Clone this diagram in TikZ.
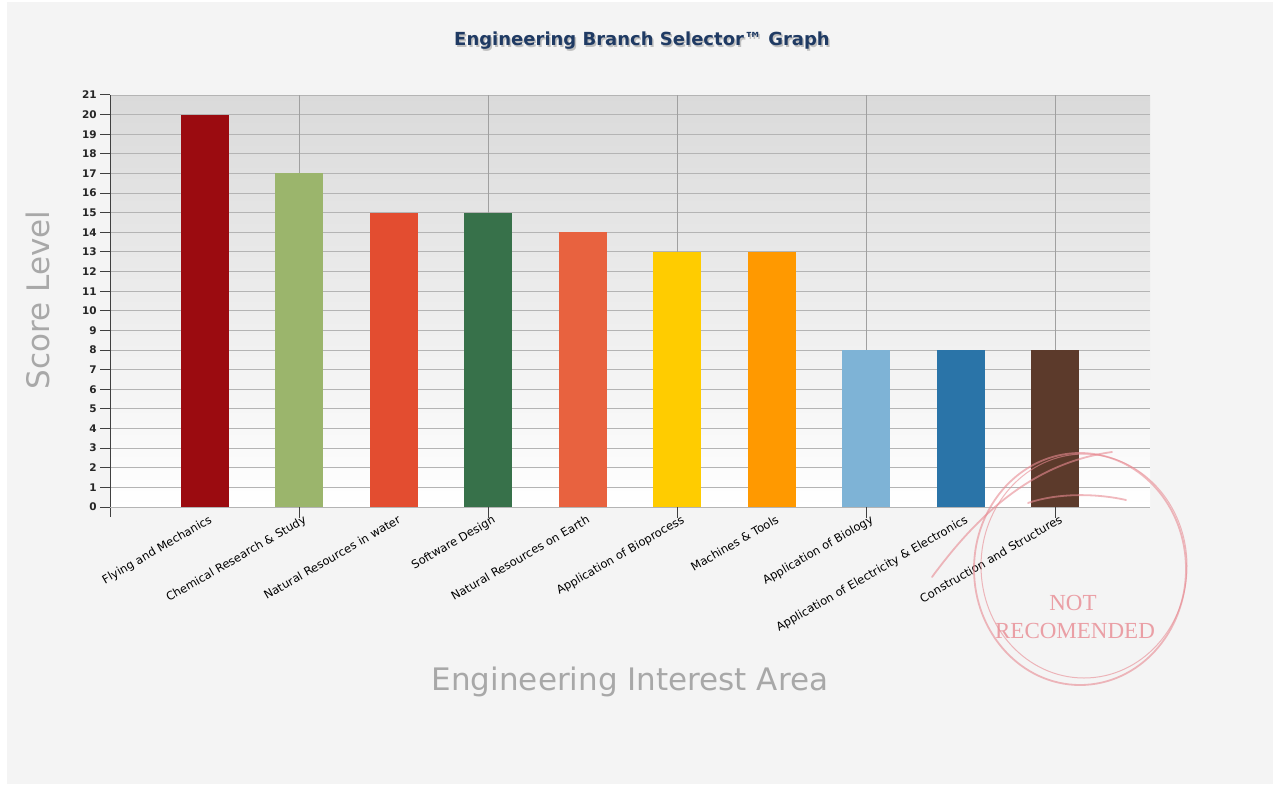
\documentclass[tikz,border=0pt]{standalone}
\usepackage{fontspec}
\setmainfont{DejaVu Sans}
\newfontfamily\stampfont{Liberation Serif}
\definecolor{pagebg}{HTML}{F4F4F4}
\definecolor{plottop}{HTML}{DADADA}
\definecolor{gridc}{HTML}{B4B4B4}
\definecolor{vgridc}{HTML}{A0A0A0}
\definecolor{titlec}{HTML}{1F3A63}
\definecolor{axtitle}{HTML}{A8A8A8}
\definecolor{stampc}{HTML}{E88A92}
\definecolor{bA}{HTML}{9B0B10}
\definecolor{bB}{HTML}{9BB56C}
\definecolor{bC}{HTML}{E34D30}
\definecolor{bD}{HTML}{37714A}
\definecolor{bE}{HTML}{E8623F}
\definecolor{bF}{HTML}{FFCC00}
\definecolor{bG}{HTML}{FF9900}
\definecolor{bH}{HTML}{7EB3D6}
\definecolor{bI}{HTML}{2A74A8}
\definecolor{bJ}{HTML}{5C3A2B}
\tikzset{
  gridline/.style={draw=gridc,line width=0.9pt},
  vgridline/.style={draw=vgridc,line width=0.8pt},
  axisline/.style={draw=black!75,line width=1pt},
  ylab/.style={anchor=east,font=\bfseries\fontsize{10.5}{10.5}\selectfont,text=black!85,inner sep=1pt},
  xlab/.style={anchor=north east,rotate=30,font=\fontsize{11.5}{11.5}\selectfont,text=black,inner sep=1pt},
  stampline/.style={draw=stampc,opacity=0.6,line width=1.8pt,line cap=round},
  stamptext/.style={text=stampc,opacity=0.8,font=\stampfont\fontsize{23}{23}\selectfont,inner sep=0pt}
}
\begin{document}
\begin{tikzpicture}[x=1pt,y=-1pt]
\useasboundingbox (0,0) rectangle (1277,785);
\fill[white] (0,0) rectangle (1277,785);
\fill[pagebg] (7,2) rectangle (1273,784);
% plot area
\shade[top color=plottop,bottom color=white] (110,95) rectangle (1150,507);
\foreach \v in {1,...,21}
  \draw[gridline] (110,{507-19.62*\v}) -- (1150,{507-19.62*\v});
\foreach \k in {2,4,6,8,10}
  \draw[vgridline] ({110+94.5*\k},95) -- ({110+94.5*\k},507);
% bars
\foreach \k/\v/\c in {1/20/bA,2/17/bB,3/15/bC,4/15/bD,5/14/bE,6/13/bF,7/13/bG,8/8/bH,9/8/bI,10/8/bJ}
  \fill[\c] ({110+94.5*\k-24},{507-19.62*\v}) rectangle ({110+94.5*\k+24},507);
% axes
\coordinate (ytop) at (110,95);
\coordinate (ybot) at (110,517);
\coordinate (xleft) at (110,507);
\coordinate (xright) at (1150,507);
\draw[axisline] (ytop) -- (ybot);
\draw[gridc,line width=1pt] (xleft) -- (xright);
\foreach \v in {0,...,21}{
  \draw[axisline] (100,{507-19.62*\v}) -- (110,{507-19.62*\v});
  \node[ylab] (yl\v) at (98,{507-19.62*\v}) {\v};
}
\foreach \k in {2,4,6,8,10}
  \draw[axisline] ({110+94.5*\k},507) -- ({110+94.5*\k},518);
% x labels
\foreach \k/\t in {1/Flying and Mechanics,2/Chemical Research \& Study,3/Natural Resources in water,4/Software Design,5/Natural Resources on Earth,6/Application of Bioprocess,7/Machines \& Tools,8/Application of Biology,9/Application of Electricity \& Electronics,10/Construction and Structures}
  \node[xlab] (xl\k) at ({110+94.5*\k+4},513) {\t};
% titles
\node[text=black!25,font=\bfseries\fontsize{18}{18}\selectfont] (titleshadow) at (643.5,42.5) {Engineering Branch Selector™ Graph};
\node[text=titlec,font=\bfseries\fontsize{18}{18}\selectfont] (title) at (642,41) {Engineering Branch Selector™ Graph};
\node[text=axtitle,rotate=90,font=\fontsize{31}{31}\selectfont] (ytitle) at (38,300) {Score Level};
\node[text=axtitle,font=\fontsize{31}{31}\selectfont] (xtitle) at (630,682) {Engineering Interest Area};
% stamp
\draw[stampline] (1080,569) ellipse [x radius=106,y radius=116];
\draw[stampline,line width=1pt] (1084,566) ellipse [x radius=103,y radius=112];
\draw[stampline] (932,577) .. controls (985,505) and (1040,462) .. (1112,452);
\draw[stampline] (1028,503) .. controls (1060,492) and (1100,494) .. (1126,500);
\node[stamptext] (not) at (1073,603) {NOT};
\node[stamptext] (rec) at (1075,631) {RECOMENDED};
\end{tikzpicture}
\end{document}
